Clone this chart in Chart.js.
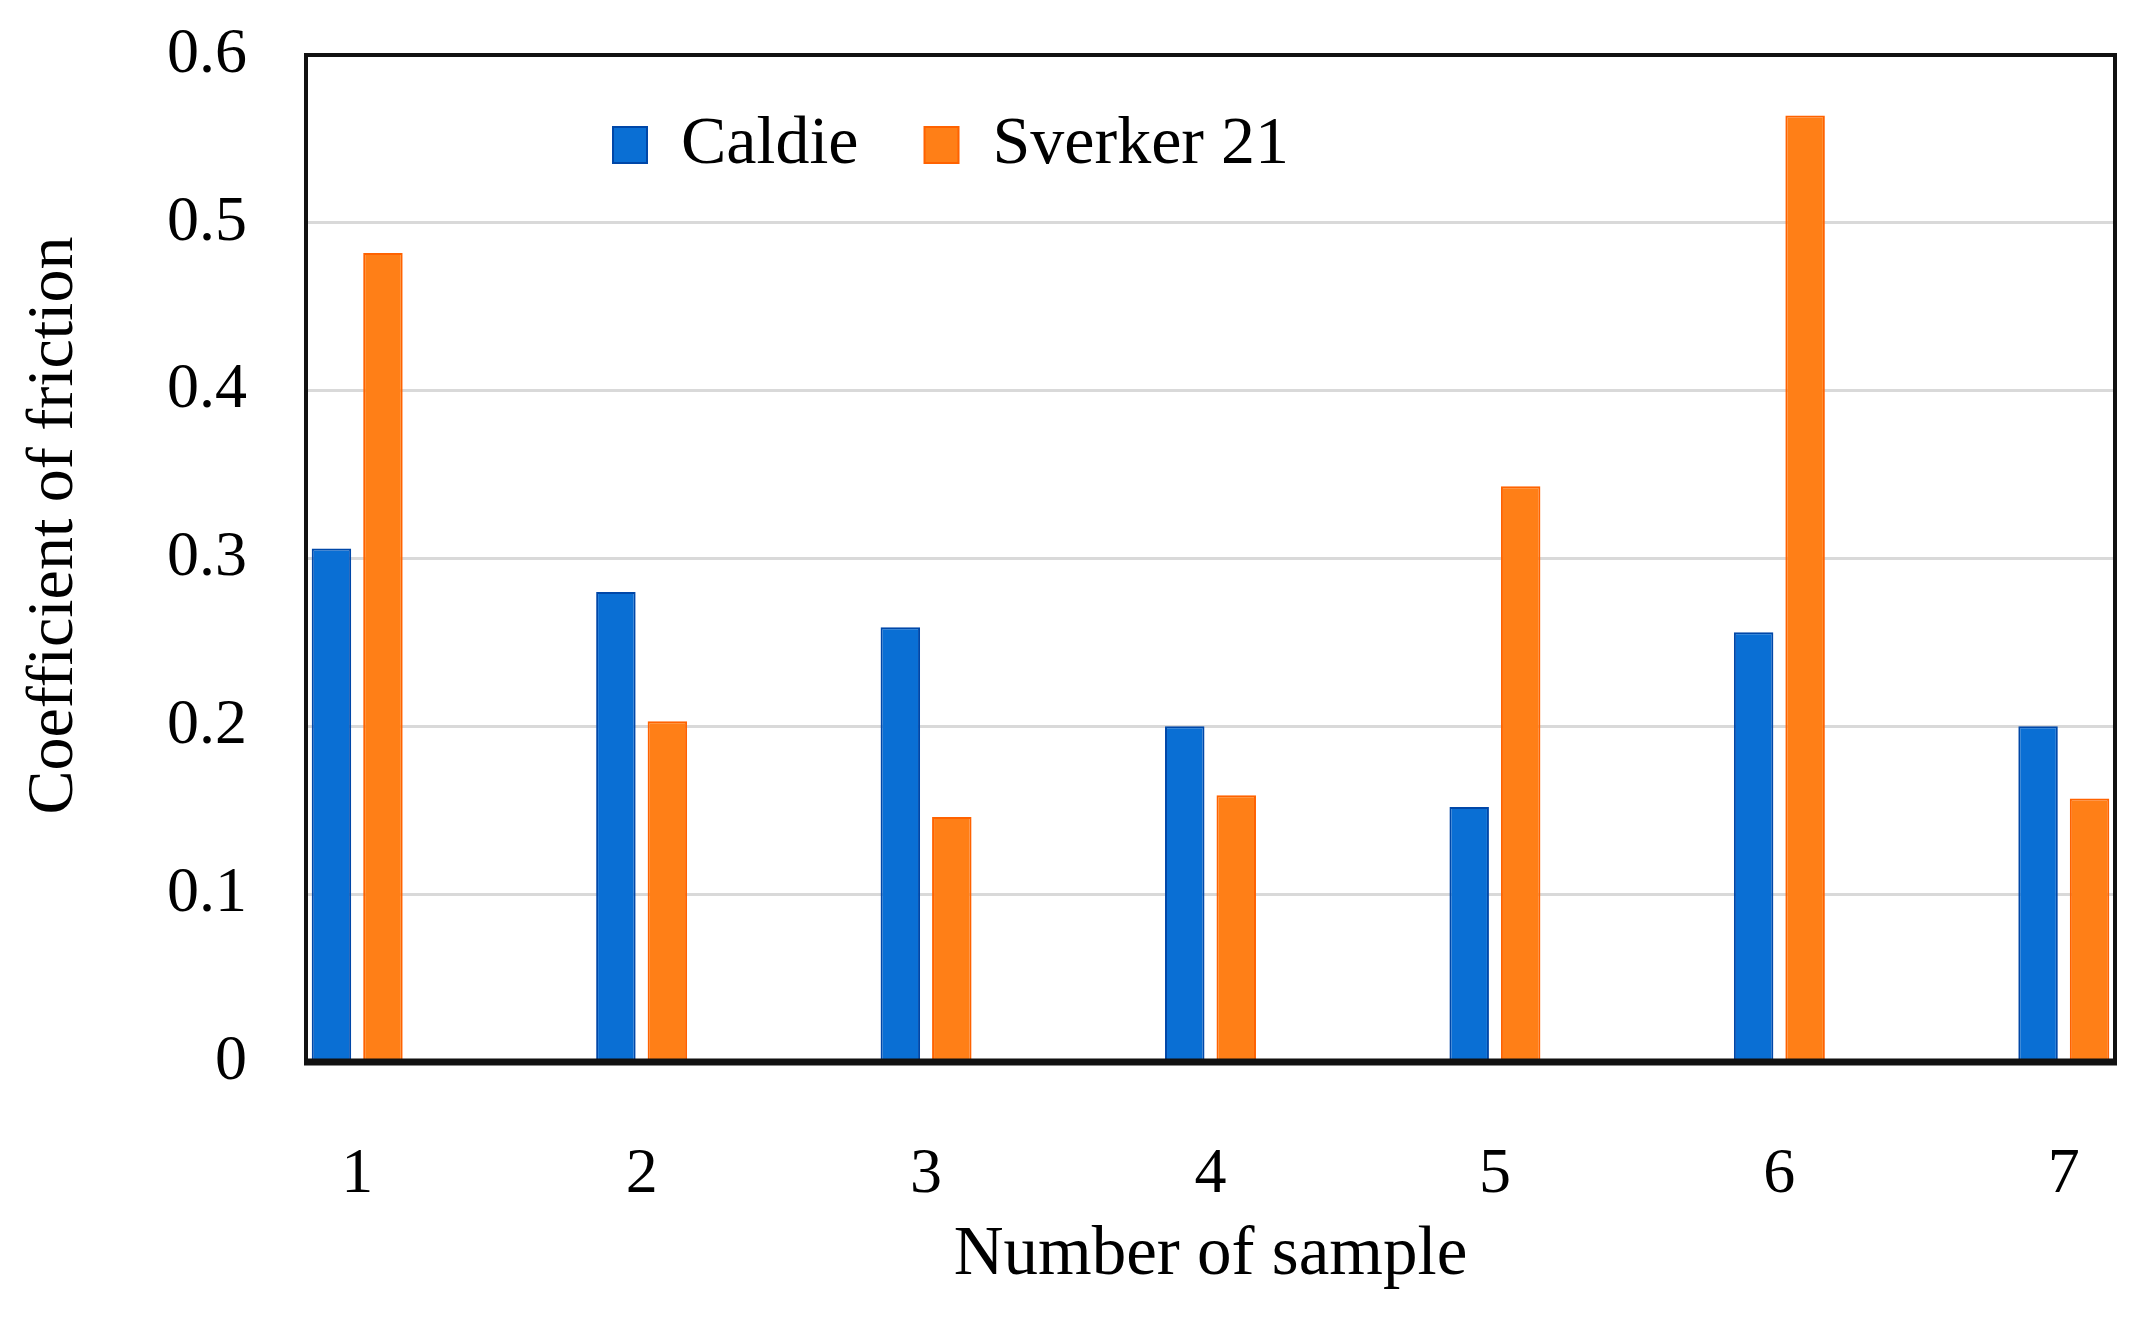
<!DOCTYPE html>
<html>
<head>
<meta charset="utf-8">
<script src="https://cdn.jsdelivr.net/npm/chart.js@4.4.0/dist/chart.umd.min.js"></script>
<style>
  html, body { margin: 0; padding: 0; background: #fff; }
  #wrap { width: 2137px; height: 1323px; }
</style>
</head>
<body>
<div id="wrap"><canvas id="friction-chart"></canvas></div>
<script>
const samples = [1, 2, 3, 4, 5, 6, 7];
const caldie = [0.306, 0.28, 0.259, 0.2, 0.152, 0.256, 0.2];
const sverker = [0.482, 0.203, 0.146, 0.159, 0.343, 0.564, 0.157];
const yTicks = [0, 0.1, 0.2, 0.3, 0.4, 0.5, 0.6];
const yTickLabels = ['0', '0.1', '0.2', '0.3', '0.4', '0.5', '0.6'];

const serif = 'Liberation Serif';

// the legend takes 1px at the top, then gets moved down inside the plot box
const legendShift = {
    id: 'legendShift',
    afterLayout(chart) {
        const area = chart.chartArea;
        const lg = chart.legend;
        lg.left = area.left + 241;
        lg.right = area.right;
        lg.top = area.top - 10;
        lg.bottom = lg.top + 180;
        lg.width = lg.right - lg.left;
        lg.height = lg.bottom - lg.top;
    }
};

// black frame round the plot, heavier along the bottom
const frame = {
    id: 'frame',
    afterDatasetsDraw(chart) {
        const { ctx, chartArea: a } = chart;
        ctx.save();
        ctx.strokeStyle = '#111';
        ctx.lineWidth = 4;
        ctx.strokeRect(a.left, a.top, a.right - a.left, a.bottom - a.top);
        ctx.lineWidth = 7;
        ctx.beginPath();
        ctx.moveTo(a.left - 2, a.bottom);
        ctx.lineTo(a.right + 2, a.bottom);
        ctx.stroke();
        ctx.restore();
    }
};

new Chart(document.getElementById('friction-chart'), {
    type: 'bar',
    data: {
        datasets: [{
            label: 'Caldie',
            data: samples.map((s, i) => ({ x: s, y: caldie[i] })),
            backgroundColor: '#0a6fd4',
            borderColor: '#0047a8',
            borderWidth: 2,
        }, {
            label: 'Sverker 21',
            data: samples.map((s, i) => ({ x: s, y: sverker[i] })),
            backgroundColor: '#ff7f17',
            borderColor: '#ff6200',
            borderWidth: 2,
        }]
    },
    options: {
        responsive: true,
        maintainAspectRatio: false,
        animation: false,
        devicePixelRatio: 1,
        categoryPercentage: 0.362,
        barPercentage: 0.767,
        layout: { padding: { top: 54, right: 22, bottom: 0, left: 0 } },
        plugins: {
            tooltip: { enabled: false },
            legend: {
                position: 'top',
                align: 'start',
                maxHeight: 1,
                labels: {
                    boxWidth: 34,
                    boxHeight: 36,
                    padding: 66,
                    color: '#000',
                    font: { family: serif, size: 68 }
                }
            }
        },
        scales: {
            x: {
                type: 'linear',
                min: 0.82,
                max: 7.18,
                offset: false,
                grid: { display: false, offset: false, drawTicks: true, tickLength: 75 },
                border: { display: false },
                afterBuildTicks: axis => { axis.ticks = samples.map(v => ({ value: v })); },
                afterFit: axis => { axis.height = 261; },
                ticks: {
                    padding: 0,
                    maxRotation: 0,
                    color: '#000',
                    font: { family: serif, size: 64 },
                    callback: v => String(v)
                },
                title: {
                    display: true,
                    text: 'Number of sample',
                    color: '#000',
                    font: { family: serif, size: 69 },
                    padding: { top: 4, bottom: 26 }
                }
            },
            y: {
                min: 0,
                max: 0.6,
                grid: { color: '#d9d9d9', lineWidth: 3, drawTicks: true, tickLength: 59, tickColor: 'rgba(0,0,0,0)' },
                border: { display: false },
                afterBuildTicks: axis => { axis.ticks = yTicks.map(v => ({ value: v })); },
                afterFit: axis => { axis.width = 306; },
                ticks: {
                    padding: 0,
                    color: '#000',
                    font: { family: serif, size: 64 },
                    callback: (v, i) => yTickLabels[i]
                },
                title: {
                    display: true,
                    text: '\u00a0\u00a0\u00a0\u00a0Coefficient of friction',
                    color: '#000',
                    font: { family: serif, size: 66 },
                    padding: { top: 15, bottom: 0 }
                }
            }
        }
    },
    plugins: [legendShift, frame]
});
</script>
</body>
</html>
